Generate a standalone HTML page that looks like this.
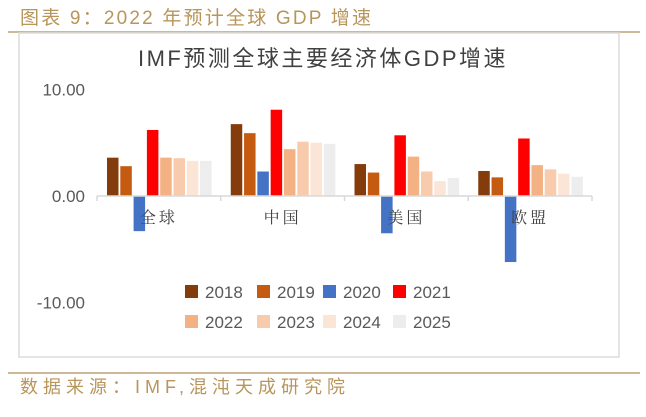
<!DOCTYPE html>
<html><head><meta charset="utf-8">
<style>
body{margin:0;width:646px;height:412px;background:#fff;overflow:hidden;font-family:"Liberation Sans","Noto Sans CJK SC",sans-serif;}
</style></head>
<body>
<svg width="646" height="412" xmlns="http://www.w3.org/2000/svg">
<text x="20" y="24" font-size="19" fill="#b8955a" letter-spacing="2.2" font-family="Liberation Sans,Noto Sans CJK SC,sans-serif">图表 9：2022 年预计全球 GDP 增速</text>
<line x1="8" y1="32" x2="640" y2="32" stroke="#cdb898" stroke-width="2"/>
<rect x="19" y="33" width="600" height="324" fill="#fff" stroke="#dcdcdc" stroke-width="1.5"/>
<text x="323" y="66" font-size="22" fill="#404040" text-anchor="middle" letter-spacing="2.5" font-family="Liberation Sans,Noto Sans CJK SC,sans-serif">IMF预测全球主要经济体GDP增速</text>
<g id="plot"></g>
<line x1="8" y1="373" x2="640" y2="373" stroke="#cdb898" stroke-width="2"/>
<text x="20" y="393" font-size="18" fill="#b8955a" letter-spacing="5" font-family="Liberation Sans,Noto Sans CJK SC,sans-serif">数据来源：IMF,混沌天成研究院</text>
</svg>
<script>
const categories=["全球","中国","美国","欧盟"];
const years=["2018","2019","2020","2021","2022","2023","2024","2025"];
const s2018=[3.6,6.75,3.0,2.35];
const s2019=[2.8,5.9,2.2,1.75];
const s2020=[-3.3,2.3,-3.5,-6.2];
const s2021=[6.2,8.1,5.7,5.4];
const s2022=[3.6,4.4,3.7,2.9];
const s2023=[3.55,5.1,2.3,2.5];
const s2024=[3.3,5.0,1.4,2.1];
const s2025=[3.3,4.9,1.7,1.8];
const yTicks=[10,0,-10];
const yTickLabels=["10.00","0.00","-10.00"];
const series=[s2018,s2019,s2020,s2021,s2022,s2023,s2024,s2025];
const colors=["#843c0c","#c55a11","#4472c4","#ff0000","#f4b183","#f8cbad","#fbe5d6","#ededed"];
const NS="http://www.w3.org/2000/svg";
const g=document.getElementById('plot');
const x0=97,x1=592,y0=196,k=10.65;
const y=v=>y0-v*k;
const cw=(x1-x0)/categories.length;
function mk(t,a){const e=document.createElementNS(NS,t);for(const n in a)e.setAttribute(n,a[n]);g.appendChild(e);return e;}
yTicks.forEach((t,i)=>{const e=mk('text',{x:85,y:y(t)+6,'font-size':17,fill:'#595959','text-anchor':'end'});e.textContent=yTickLabels[i];

});
series.forEach((s,si)=>{s.forEach((v,ci)=>{const bx=x0+ci*cw+10+si*13.3;const r=mk('rect',{x:bx,y:Math.min(y(v),y0),width:11.5,height:Math.abs(v)*k,fill:colors[si]});

});});
const ax=mk('path',{d:`M${x0},${y0}H${x1}`+[0,1,2,3,4].map(i=>`M${x0+i*cw},${y0}v5`).join(''),stroke:'#d9d9d9','stroke-width':1.5,fill:'none'});


categories.forEach((c,i)=>{const e=mk('text',{x:x0+(i+0.5)*cw,y:223,'font-size':16,fill:'#404040','text-anchor':'middle','font-family':'Liberation Serif,Noto Serif CJK SC,serif','letter-spacing':'3'});e.textContent=c;

});
const lx=[185,257,323,393];
years.forEach((yr,i)=>{const cx=lx[i%4],cy=i<4?292:322;
const r=mk('rect',{x:cx,y:cy-7,width:13,height:13,fill:colors[i]});


const t=mk('text',{x:cx+20,y:cy+6,'font-size':17,fill:'#595959'});t.textContent=yr;

});
</script>
</body></html>
